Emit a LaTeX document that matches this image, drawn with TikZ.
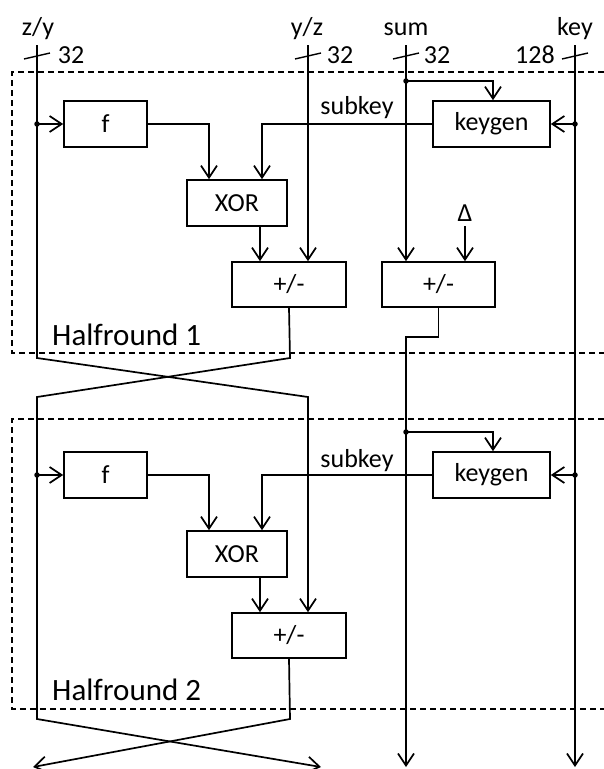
\documentclass[tikz,border=0pt]{standalone}
\usepackage{fontspec}
\setmainfont{Carlito}
\usetikzlibrary{arrows.meta,calc}
\begin{document}
\begin{tikzpicture}[x=1pt,y=-1pt,
  wire/.style={line width=1.7pt},
  arr/.style={wire,-{Straight Barb[length=12pt,width=16pt]}},
  blk/.style={draw,line width=1.7pt,inner sep=0pt,minimum height=46pt,font=\fontsize{26}{30}\selectfont},
  lbl/.style={inner sep=0pt,anchor=base,font=\fontsize{26}{30}\selectfont},
  hr/.style={inner sep=0pt,anchor=base west,font=\fontsize{31}{36}\selectfont},
  frame/.style={line width=1.3pt,dash pattern=on 6pt off 4pt},
  tick/.style={line width=1.4pt},
  dot/.style={circle,fill,inner sep=0pt,minimum size=5.5pt}]
\useasboundingbox (0,0) rectangle (603,769);

% dashed half-round frames (open to the right)
\draw[frame] (604,72) -- (12,72) -- (12,353) -- (604,353);
\draw[frame] (604,419) -- (12,419) -- (12,709) -- (604,709);
\node[hr] (hr1) at (52,345) {Halfround 1};
\node[hr] (hr2) at (52,700) {Halfround 2};

% input labels
\node[lbl] (lzy) at (38,35) {z/y};
\node[lbl] (lyz) at (307,35) {y/z};
\node[lbl] (lsum) at (406,35) {sum};
\node[lbl] (lkey) at (575,35) {key};
\node[lbl] (w1) at (71,63) {32};
\node[lbl] (w2) at (340,63) {32};
\node[lbl] (w3) at (437,63) {32};
\node[lbl] (w4) at (535,63) {128};

% input line tops
\coordinate (zyin) at (37,45);
\coordinate (yzin) at (308,45);
\coordinate (sumin) at (406,45);
\coordinate (keyin) at (575,45);

% bus width ticks
\foreach \c in {zyin,yzin,sumin,keyin}
  \draw[tick] ($(\c)+(-13,14)$) -- ($(\c)+(13,8)$);

% half-round 1 blocks
\node[blk,minimum width=83pt] (f1) at (105.5,124) {f};
\node[blk,minimum width=117pt] (kg1) at (491.5,124) {keygen};
\node[blk,minimum width=100pt] (xor1) at (237,203) {XOR};
\node[blk,minimum width=114pt,minimum height=45pt] (pm1) at (289,284.5) {+/-};
\node[blk,minimum width=113pt,minimum height=45pt] (pms) at (438.5,284.5) {+/-};
\node[lbl] (sk1) at (357,114) {subkey};
\node[lbl] (delta) at (465,221) {Δ};
\coordinate (dtop) at (465,226);

% half-round 2 blocks
\node[blk,minimum width=83pt] (f2) at (105.5,475) {f};
\node[blk,minimum width=117pt] (kg2) at (491.5,475) {keygen};
\node[blk,minimum width=100pt] (xor2) at (237,554) {XOR};
\node[blk,minimum width=114pt,minimum height=45pt] (pm2) at (289,635.5) {+/-};
\node[lbl] (sk2) at (357,467) {subkey};

% junctions and bends
\coordinate (d1) at (37,124);
\coordinate (s1) at (406,81);
\coordinate (k1) at (575,124);
\coordinate (d2) at (37,475);
\coordinate (s2) at (406,432);
\coordinate (k2) at (575,475);
\coordinate (x1l) at (37,358);
\coordinate (x1r) at (290,358);
\coordinate (c1l) at (37,397);
\coordinate (c1r) at (308,397);
\coordinate (x2l) at (37,719);
\coordinate (x2r) at (290,719);
\coordinate (outl) at (33,767);
\coordinate (outr) at (321,767);
\coordinate (sumjog) at (406,337);
\coordinate (sumout) at (406,767);
\coordinate (keyout) at (575,767);

% z/y path: through round 1, swap, into the adder of round 2
\draw[arr] (zyin) -- (x1l) -- (c1r) -- ([xshift=19pt]pm2.north);
% y/z into adder of round 1
\draw[arr] (yzin) -- ([xshift=19pt]pm1.north);
% adder 1 output: swap, through round 2, final swap
\draw[arr] (pm1.south) -- (x1r) -- (c1l) -- (x2l) -- (outr);
\draw[arr] (pm2.south) -- (x2r) -- (outl);

% sum and key lines
\draw[arr] (sumin) -- ([xshift=-32.5pt]pms.north);
\draw[arr] (dtop) -- ([xshift=26.5pt]pms.north);
\draw[arr] (pms.south) |- (sumjog) -- (sumout);
\draw[arr] (keyin) -- (keyout);

% round 1 internals
\draw[arr] (d1) -- (f1.west);
\draw[arr] (f1.east) -| ([xshift=-28pt]xor1.north);
\draw[arr] (kg1.west) -| ([xshift=25pt]xor1.north);
\draw[arr] ([xshift=23pt]xor1.south) -- ([xshift=-29pt]pm1.north);
\draw[arr] (s1) -| ([xshift=1.5pt]kg1.north);
\draw[arr] (k1) -- (kg1.east);

% round 2 internals
\draw[arr] (d2) -- (f2.west);
\draw[arr] (f2.east) -| ([xshift=-28pt]xor2.north);
\draw[arr] (kg2.west) -| ([xshift=25pt]xor2.north);
\draw[arr] ([xshift=23pt]xor2.south) -- ([xshift=-29pt]pm2.north);
\draw[arr] (s2) -| ([xshift=1.5pt]kg2.north);
\draw[arr] (k2) -- (kg2.east);

% junction dots
\foreach \c in {d1,s1,k1,d2,s2,k2}
  \node[dot] at (\c) {};
\end{tikzpicture}
\end{document}
